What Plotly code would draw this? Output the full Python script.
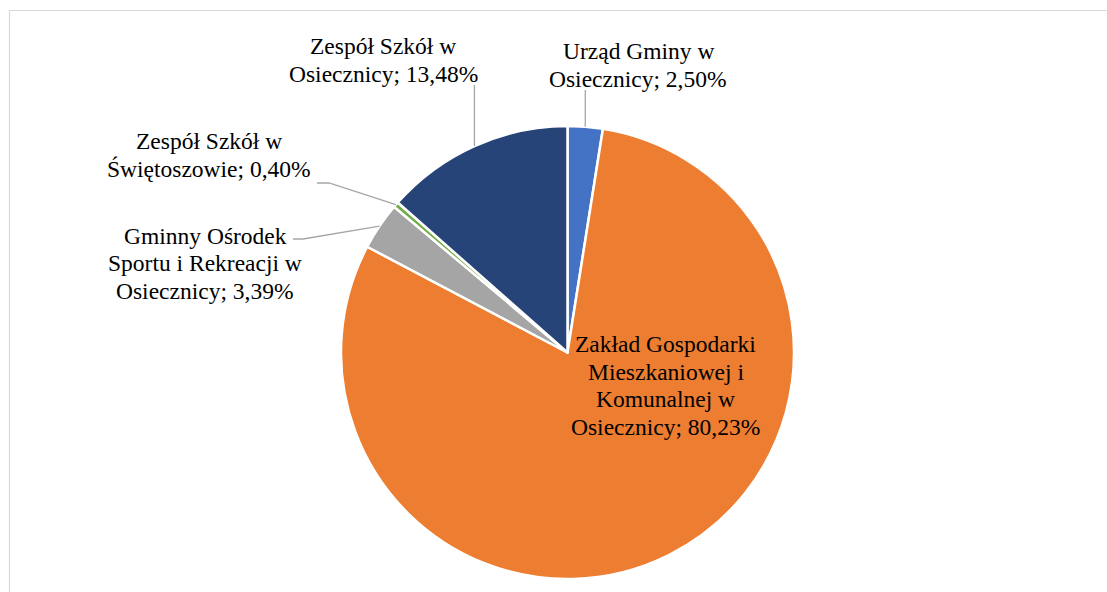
import math
import plotly.graph_objects as go

# ---------------- data ----------------
categories = [
    "Urząd Gminy w Osiecznicy",
    "Zakład Gospodarki Mieszkaniowej i Komunalnej w Osiecznicy",
    "Gminny Ośrodek Sportu i Rekreacji w Osiecznicy",
    "Zespół Szkół w Świętoszowie",
    "Zespół Szkół w Osiecznicy",
]
shares = [2.50, 80.23, 3.39, 0.40, 13.48]
label_lines = [
    ["Urząd Gminy w", "Osiecznicy; {p}"],
    ["Zakład Gospodarki", "Mieszkaniowej i", "Komunalnej w", "Osiecznicy; {p}"],
    ["Gminny Ośrodek", "Sportu i Rekreacji w", "Osiecznicy; {p}"],
    ["Zespół Szkół w", "Świętoszowie; {p}"],
    ["Zespół Szkół w", "Osiecznicy; {p}"],
]
colors = ["#4472C4", "#ED7D31", "#A5A5A5", "#70AD47", "#264478"]

# ---------------- layout (pixels) ----------------
W, H = 1107, 592
CX, CY, R = 567.5, 352.5, 226.5
FAMILY = "'Times New Roman', 'Liberation Serif', 'DejaVu Serif', serif"
FONT = dict(family=FAMILY, size=23.5, color="#000000")
LINE_H = 27.6
# label block: centre x, first line centre y
label_pos = [(638, 50), (665.5, 342.5), (205, 234), (209, 139.5), (383, 45)]
# leader line bends (list of points after the slice edge point); None = no leader
leader_pts = [
    [(None, 90)],
    None,
    [(303, 239), (293, 239)],
    [(329, 183), (317, 183)],
    [(None, 85)],
]


def px(x):
    return x / W


def py(y):
    return 1 - y / H


fig = go.Figure()
fig.add_trace(go.Pie(
    labels=categories,
    values=shares,
    sort=False,
    direction="clockwise",
    rotation=0,
    marker=dict(colors=colors, line=dict(color="#FFFFFF", width=2.5)),
    textinfo="none",
    hoverinfo="label+percent",
    showlegend=False,
    domain=dict(x=[px(CX - R), px(CX + R)], y=[py(CY + R), py(CY - R)]),
))

annotations = []
shapes = []
total = sum(shares)
cum = 0.0
Y_OFF = 1.5
for i, v in enumerate(shares):
    mid = (cum + v / 2) / total * 2 * math.pi
    cum += v
    pct = f"{v:.2f}".replace(".", ",") + "%"
    lx, ly = label_pos[i]
    for k, line in enumerate(label_lines[i]):
        annotations.append(dict(
            x=px(lx), y=py(ly + k * LINE_H + Y_OFF), xref="paper", yref="paper",
            text=line.format(p=pct), showarrow=False, xanchor="center", yanchor="middle",
            font=FONT,
        ))
    if leader_pts[i]:
        ex = CX + R * math.sin(mid)
        ey = CY - R * math.cos(mid)
        path = f"M{px(ex)},{py(ey)}"
        for (bx, by) in leader_pts[i]:
            bx = ex if bx is None else bx
            path += f" L{px(bx)},{py(by)}"
        shapes.append(dict(type="path", path=path, xref="paper", yref="paper",
                           line=dict(color="#A6A6A6", width=1.3)))

# chart-area border
shapes.append(dict(type="rect", xref="paper", yref="paper",
                   x0=px(9.5), x1=px(W + 5), y0=py(H + 5), y1=py(10.5),
                   line=dict(color="#D9D9D9", width=1.2), fillcolor="rgba(0,0,0,0)", layer="below"))

fig.update_layout(
    width=W, height=H,
    margin=dict(l=0, r=0, t=0, b=0),
    paper_bgcolor="#FFFFFF", plot_bgcolor="#FFFFFF",
    font=dict(family=FAMILY),
    annotations=annotations, shapes=shapes,
    showlegend=False,
)

fig.write_html("out.html", config={"displayModeBar": False},
               post_script="document.body.style.margin='0';document.body.style.overflow='hidden';")
